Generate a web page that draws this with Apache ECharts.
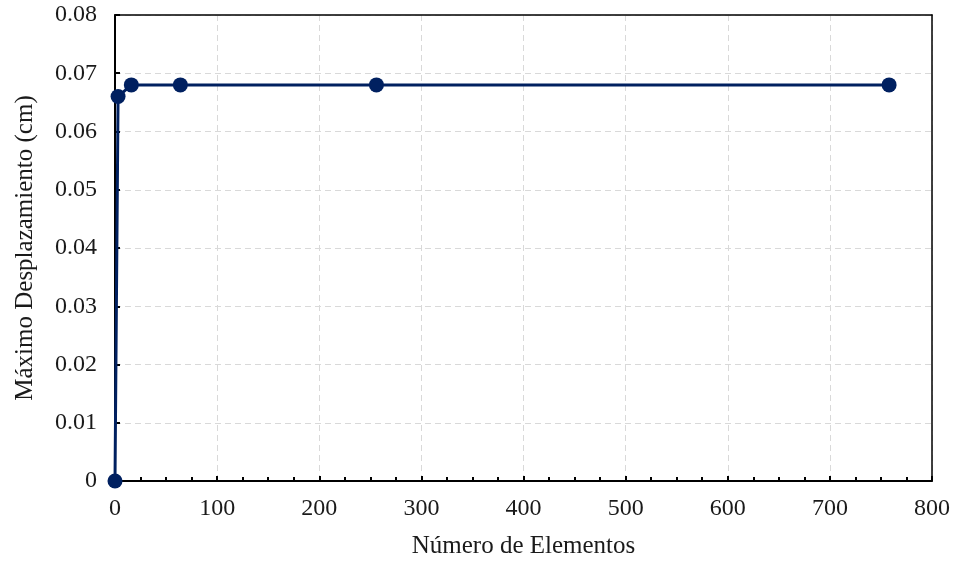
<!DOCTYPE html>
<html><head><meta charset="utf-8">
<script src="https://cdn.jsdelivr.net/npm/echarts@6/dist/echarts.min.js"></script>
<style>html,body{margin:0;padding:0;background:#fff}#c{width:953px;height:561px}</style>
</head><body><div id="c"></div>
<script>
const xValues = [0, 3, 16, 64, 256, 758];
const yValues = [0, 0.066, 0.068, 0.068, 0.068, 0.068];
const xTitle = 'Número de Elementos';
const yTitle = 'Máximo Desplazamiento (cm)';

const font = 'Liberation Serif, Times New Roman, serif';
const axisColor = '#000';
const chart = echarts.init(document.getElementById('c'));
chart.setOption({
  animation: false,
  grid: {left: 115, right: 21, top: 15, bottom: 80, outerBoundsMode: 'none', containLabel: false},
  xAxis: [{
    type: 'value', min: 0, max: 800, interval: 100,
    name: xTitle, nameLocation: 'middle', nameGap: 53,
    nameTextStyle: {fontFamily: font, fontSize: 25, color: '#1a1a1a'},
    axisLine: {show: true, onZero: false, lineStyle: {color: axisColor, width: 2}},
    axisTick: {show: true, inside: true, length: 5, lineStyle: {color: axisColor, width: 2}},
    minorTick: {show: true, splitNumber: 4, length: 4, lineStyle: {color: axisColor, width: 2}},
    axisLabel: {fontFamily: font, fontSize: 24, color: '#1a1a1a', margin: 16},
    splitLine: {show: true, lineStyle: {color: '#d9d9d9', type: [6, 4], width: 1}},
    z: 3
  }, {
    type: 'value', position: 'top', min: 0, max: 800,
    axisLine: {show: true, onZero: false, lineStyle: {color: axisColor, width: 1.5}},
    axisTick: {show: false}, axisLabel: {show: false}, splitLine: {show: false}, z: 3
  }],
  yAxis: [{
    type: 'value', min: 0, max: 0.08, interval: 0.01,
    name: yTitle, nameLocation: 'middle', nameGap: 77,
    nameTextStyle: {fontFamily: font, fontSize: 25, color: '#1a1a1a'},
    axisLine: {show: true, onZero: false, lineStyle: {color: axisColor, width: 2}},
    axisTick: {show: true, inside: true, length: 5, lineStyle: {color: axisColor, width: 2}},
    axisLabel: {fontFamily: font, fontSize: 24, color: '#1a1a1a', margin: 18,
      formatter: v => (Math.round(v * 100) / 100).toString()},
    splitLine: {show: true, lineStyle: {color: '#d9d9d9', type: [6, 4], width: 1}},
    z: 3
  }, {
    type: 'value', position: 'right', min: 0, max: 0.08,
    axisLine: {show: true, onZero: false, lineStyle: {color: axisColor, width: 1.5}},
    axisTick: {show: false}, axisLabel: {show: false}, splitLine: {show: false}, z: 3
  }],
  series: [{
    type: 'line',
    data: xValues.map((x, i) => [x, yValues[i]]),
    symbol: 'circle', symbolSize: 15,
    lineStyle: {color: '#002060', width: 3},
    itemStyle: {color: '#002060'},
    z: 5
  }]
});
</script></body></html>
